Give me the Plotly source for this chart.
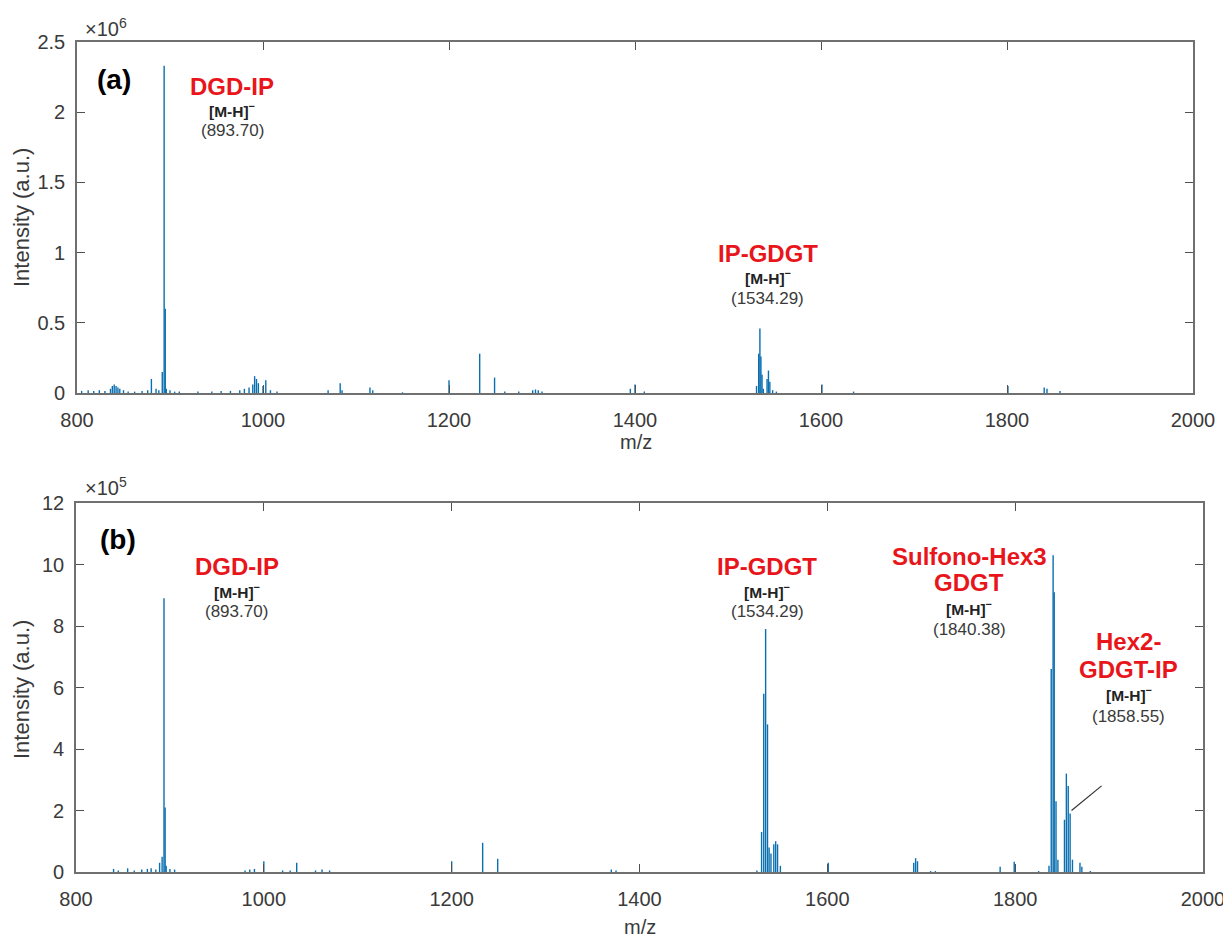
import plotly.graph_objects as go

# ---------------- data ----------------
# Panel (a): m/z and intensity (a.u.)
a_mz = [805, 812, 818, 824, 830, 836, 838, 840, 842, 844, 846, 850, 855, 862, 870, 876, 880, 885, 888,
        891.7, 893.7, 894.9, 896, 900, 905, 910, 930, 945, 955, 965, 975, 980, 985, 989, 991, 993, 995,
        1000, 1003, 1008, 1015, 1070, 1083, 1085, 1115, 1118, 1150, 1200, 1233, 1249, 1260, 1275, 1290,
        1293, 1296, 1300, 1395, 1400, 1410, 1530.7, 1533.0, 1534.3, 1535.4, 1536.6, 1538, 1542, 1543.5,
        1545, 1548, 1552, 1601, 1635, 1801, 1840, 1843, 1857]
a_int = [0.015e6, 0.02e6, 0.015e6, 0.02e6, 0.015e6, 0.03e6, 0.05e6, 0.06e6, 0.05e6, 0.04e6, 0.03e6,
         0.02e6, 0.01e6, 0.01e6, 0.015e6, 0.02e6, 0.10e6, 0.03e6, 0.02e6,
         0.15e6, 2.33e6, 0.60e6, 0.03e6, 0.02e6, 0.01e6, 0.01e6, 0.01e6, 0.01e6, 0.015e6, 0.015e6,
         0.02e6, 0.03e6, 0.04e6, 0.06e6, 0.12e6, 0.10e6, 0.07e6,
         0.05e6, 0.09e6, 0.02e6, 0.01e6, 0.02e6, 0.07e6, 0.02e6, 0.04e6, 0.02e6, 0.005e6, 0.09e6,
         0.28e6, 0.11e6, 0.01e6, 0.01e6, 0.02e6,
         0.025e6, 0.02e6, 0.01e6, 0.03e6, 0.06e6, 0.01e6, 0.05e6, 0.28e6, 0.46e6, 0.26e6, 0.13e6,
         0.03e6, 0.10e6, 0.16e6,
         0.08e6, 0.02e6, 0.01e6, 0.06e6, 0.01e6, 0.05e6, 0.04e6, 0.03e6, 0.015e6]

# Panel (b)
b_mz = [840, 845, 855, 862, 870, 876, 880, 885, 889, 891.7, 893.7, 894.9, 896, 900, 905, 980, 985, 990,
        1000, 1020, 1028, 1035, 1055, 1062, 1070, 1200, 1233, 1249, 1370, 1375, 1525, 1530, 1532.3,
        1534.3, 1536.3, 1538, 1540, 1543, 1545, 1547, 1550, 1601, 1692, 1694, 1696, 1710, 1715, 1784,
        1799, 1825, 1836, 1838.4, 1840.4, 1841.6, 1843.5, 1845.5, 1852.5, 1854.5, 1856.5, 1858.5,
        1861, 1869, 1871, 1880]
b_int = [0.10e5, 0.05e5, 0.12e5, 0.05e5, 0.08e5, 0.10e5, 0.12e5, 0.08e5, 0.30e5, 0.50e5, 8.9e5, 2.1e5,
         0.20e5, 0.10e5, 0.08e5, 0.05e5, 0.08e5, 0.10e5,
         0.35e5, 0.05e5, 0.05e5, 0.30e5, 0.05e5, 0.08e5, 0.05e5, 0.35e5, 0.95e5, 0.43e5, 0.08e5, 0.05e5,
         0.05e5, 1.3e5, 5.8e5,
         7.9e5, 4.8e5, 0.8e5, 0.6e5, 0.9e5, 1.0e5, 0.9e5, 0.2e5, 0.30e5, 0.30e5, 0.45e5, 0.35e5, 0.03e5,
         0.03e5, 0.17e5,
         0.33e5, 0.03e5, 0.20e5, 6.6e5, 10.3e5, 9.1e5, 2.3e5, 0.4e5, 1.7e5, 3.2e5, 2.8e5, 1.9e5,
         0.4e5, 0.3e5, 0.17e5, 0.03e5]

x_ticks = [800, 1000, 1200, 1400, 1600, 1800, 2000]
a_yticks = [0, 0.5e6, 1e6, 1.5e6, 2e6, 2.5e6]
a_yticktext = ["0", "0.5", "1", "1.5", "2", "2.5"]
b_yticks = [0, 2e5, 4e5, 6e5, 8e5, 10e5, 12e5]
b_yticktext = ["0", "2", "4", "6", "8", "10", "12"]

# page body has an 8px margin: window pixel p -> figure pixel p - OFF
OFF = 8
W, H = 1231 - OFF, 939 - OFF
LINE = "#0A6FB0"
RED = "#E8161B"
TXT = "#3a3a3a"
FONT = "Liberation Sans, Arial, sans-serif"


def px(p):
    return (p - OFF) / W


def py(p):
    return 1 - (p - OFF) / H


def sticks(mz, inten):
    xs, ys = [], []
    for m, v in zip(mz, inten):
        xs += [m, m, None]
        ys += [0, v, None]
    return xs, ys


fig = go.Figure()
ax, ay = sticks(a_mz, a_int)
bx, by = sticks(b_mz, b_int)
fig.add_trace(go.Scatter(x=ax, y=ay, mode="lines", line=dict(color=LINE, width=1.4),
                         xaxis="x", yaxis="y", showlegend=False, hoverinfo="skip"))
fig.add_trace(go.Scatter(x=bx, y=by, mode="lines", line=dict(color=LINE, width=1.4),
                         xaxis="x2", yaxis="y2", showlegend=False, hoverinfo="skip"))

axis_common = dict(showgrid=False, zeroline=False, showline=True, linecolor="#707070", linewidth=1.6,
                   mirror="ticks", ticks="inside", ticklen=8, tickcolor="#505050", tickwidth=1.2,
                   automargin=False,
                   tickfont=dict(family=FONT, size=20, color=TXT))

fig.update_layout(
    template="none",
    width=W, height=H, margin=dict(l=0, r=0, t=0, b=0, pad=0),
    paper_bgcolor="white", plot_bgcolor="white",
    xaxis=dict(domain=[px(77), px(1193)], range=[800, 2000], tickvals=x_ticks, anchor="y",
               ticklabelstandoff=8, **axis_common),
    yaxis=dict(domain=[py(393), py(42)], range=[0, 2.5e6], tickvals=a_yticks, ticktext=a_yticktext,
               anchor="x", ticklabelstandoff=6, **axis_common),
    xaxis2=dict(domain=[px(76), px(1203)], range=[800, 2000], tickvals=x_ticks, anchor="y2",
                ticklabelstandoff=8, **axis_common),
    yaxis2=dict(domain=[py(872), py(503)], range=[0, 12e5], tickvals=b_yticks, ticktext=b_yticktext,
                anchor="x2", ticklabelstandoff=6, **axis_common),
)

ann = []


def add(text, x, y, xref, yref, size, color=TXT, bold=False, angle=0):
    t = f"<b>{text}</b>" if bold else text
    ann.append(dict(text=t, x=x, y=y, xref=xref, yref=yref, showarrow=False, textangle=angle,
                    font=dict(family=FONT, size=size, color=color), xanchor="center", yanchor="middle"))


# axis titles & exponents (paper coords)
add("Intensity (a.u.)", px(21), py(218), "paper", "paper", 22, angle=-90)
add("Intensity (a.u.)", px(21), py(690), "paper", "paper", 22, angle=-90)
add("m/z", px(636), py(442), "paper", "paper", 20)
add("m/z", px(640), py(927), "paper", "paper", 20)
add("×10<sup>6</sup>", px(106), py(27), "paper", "paper", 20)
add("×10<sup>5</sup>", px(106), py(487), "paper", "paper", 20)

MH = 15.5
NUM = 17
LAB = 24
# panel (a)
add("(a)", 840, 2.23e6, "x", "y", 28, color="black", bold=True)
add("DGD-IP", 967, 2.185e6, "x", "y", LAB, color=RED, bold=True)
add("[M-H]<sup>−</sup>", 967, 2.013e6, "x", "y", MH, color="#222222", bold=True)
add("(893.70)", 967, 1.87e6, "x", "y", NUM)
add("IP-GDGT", 1543, 0.995e6, "x", "y", LAB, color=RED, bold=True)
add("[M-H]<sup>−</sup>", 1543, 0.823e6, "x", "y", MH, color="#222222", bold=True)
add("(1534.29)", 1543, 0.675e6, "x", "y", NUM)

# panel (b)
add("(b)", 845, 10.8e5, "x2", "y2", 28, color="black", bold=True)
add("DGD-IP", 971, 9.95e5, "x2", "y2", LAB, color=RED, bold=True)
add("[M-H]<sup>−</sup>", 971, 9.14e5, "x2", "y2", MH, color="#222222", bold=True)
add("(893.70)", 971, 8.46e5, "x2", "y2", NUM)
add("IP-GDGT", 1536, 9.95e5, "x2", "y2", LAB, color=RED, bold=True)
add("[M-H]<sup>−</sup>", 1536, 9.14e5, "x2", "y2", MH, color="#222222", bold=True)
add("(1534.29)", 1536, 8.46e5, "x2", "y2", NUM)
add("Sulfono-Hex3", 1751, 10.27e5, "x2", "y2", LAB, color=RED, bold=True)
add("GDGT", 1751, 9.4e5, "x2", "y2", LAB, color=RED, bold=True)
add("[M-H]<sup>−</sup>", 1751, 8.6e5, "x2", "y2", MH, color="#222222", bold=True)
add("(1840.38)", 1751, 7.9e5, "x2", "y2", NUM)
add("Hex2-", 1921, 7.5e5, "x2", "y2", LAB, color=RED, bold=True)
add("GDGT-IP", 1921, 6.6e5, "x2", "y2", LAB, color=RED, bold=True)
add("[M-H]<sup>−</sup>", 1921, 5.8e5, "x2", "y2", MH, color="#222222", bold=True)
add("(1858.55)", 1921, 5.05e5, "x2", "y2", NUM)

fig.update_layout(annotations=ann)
fig.add_shape(type="line", xref="x2", yref="y2", x0=1892, y0=2.8e5, x1=1860, y1=2.0e5,
              line=dict(color="#333333", width=1.2))

fig.write_html("out.html")
